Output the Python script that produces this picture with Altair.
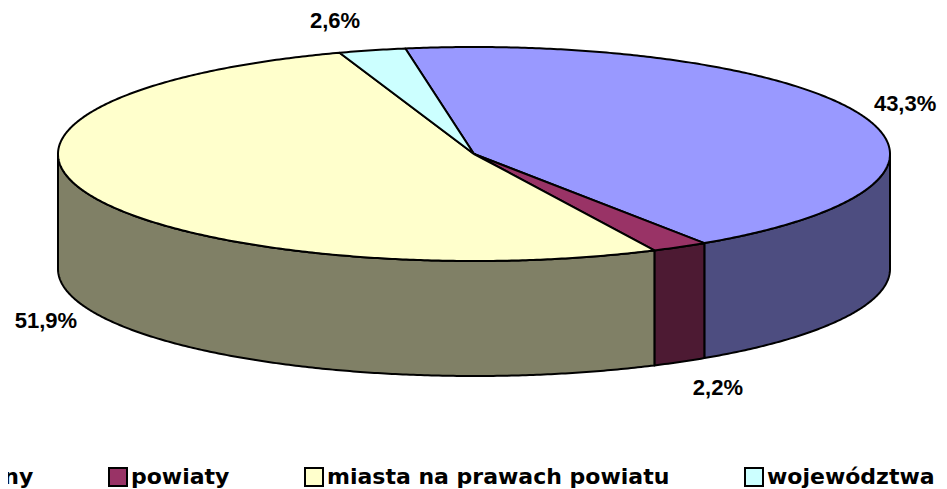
import altair as alt
import numpy as np
import pandas as pd

# ---- data ----
categories = ["gminy", "powiaty", "miasta na prawach powiatu", "województwa"]
values = [43.3, 2.2, 51.9, 2.6]
top_colors = ["#9999FF", "#993366", "#FFFFCC", "#CCFFFF"]
side_colors = ["#4D4D80", "#4D1A33", "#808066", "#668080"]

# ---- layout (pixels inside the plot area) ----
W, H = 931, 481
CX, CY = 466, 146
RX, RY = 416, 107
DEPTH = 115
START = -9.5          # degrees, clockwise from 12 o'clock
STEP = 0.5
LEG_FONT = "DejaVu Sans"
LAB_FONT = "Liberation Sans"


def ell(t_deg, dy=0.0):
    t = np.radians(t_deg)
    return CX + RX * np.sin(t), CY - RY * np.cos(t) + dy


def arc(a, b):
    n = max(2, int(abs(b - a) / STEP) + 1)
    return np.linspace(a, b, n)


total = sum(values)
bounds = []
acc = START
for v in values:
    a = acc
    acc = acc + v / total * 360.0
    bounds.append((a, acc))

top_rows, side_rows, label_rows = [], [], []
for i, (cat, (a, b)) in enumerate(zip(categories, bounds)):
    pts = [(CX, CY)] + [ell(t) for t in arc(a, b)] + [(CX, CY)]
    for k, (x, y) in enumerate(pts):
        top_rows.append({"id": cat, "cat": cat, "i": k, "x": x, "y": y})
    sa, sb = max(a, 90.0), min(b, 270.0)
    if sb > sa:
        ts = arc(sa, sb)
        pts = [ell(t) for t in ts] + [ell(t, DEPTH) for t in ts[::-1]]
        pts.append(pts[0])
        for k, (x, y) in enumerate(pts):
            side_rows.append({"id": cat, "side": cat + " side", "i": k, "x": x, "y": y})
    m = (a + b) / 2
    s, c = np.sin(np.radians(m)), np.cos(np.radians(m))
    lx, ly = ell(m, DEPTH if c < 0 else 0.0)
    lx += 13 if s >= 0 else -12
    ly += -c * 30
    label_rows.append({"cat": cat, "x": lx, "y": ly, "right": bool(s >= 0),
                       "txt": f"{values[i]:.1f}".replace(".", ",") + "%"})

top_df = pd.DataFrame(top_rows)
side_df = pd.DataFrame(side_rows)
lab_df = pd.DataFrame(label_rows)

xs = alt.Scale(domain=[0, W], nice=False, zero=False)
ys = alt.Scale(domain=[0, H], nice=False, zero=False, reverse=True)

sides = alt.Chart(side_df).mark_line(stroke="black", strokeWidth=2, strokeJoin="round").encode(
    x=alt.X("x:Q", scale=xs, axis=None),
    y=alt.Y("y:Q", scale=ys, axis=None),
    detail="id:N",
    order="i:Q",
    fill=alt.Fill("side:N", scale=alt.Scale(domain=[c + " side" for c in categories], range=side_colors), legend=None),
)

tops = alt.Chart(top_df).mark_line(stroke="black", strokeWidth=2, strokeJoin="round").encode(
    x=alt.X("x:Q", scale=xs, axis=None),
    y=alt.Y("y:Q", scale=ys, axis=None),
    detail="id:N",
    order="i:Q",
    fill=alt.Fill("cat:N", scale=alt.Scale(domain=categories, range=top_colors),
                  legend=alt.Legend(orient="none", direction="horizontal", legendX=-75, legendY=458,
                                    title=None, symbolType="square", symbolSize=324,
                                    symbolStrokeColor="black", symbolStrokeWidth=2,
                                    labelFont=LEG_FONT, labelFontWeight="bold", labelFontSize=22,
                                    labelColor="black", labelOffset=2, labelLimit=600,
                                    columnPadding=71, padding=0)),
)

lab_r = alt.Chart(lab_df).transform_filter("datum.right").mark_text(
    align="left", baseline="middle", font=LAB_FONT, fontWeight="bold", fontSize=22, color="black"
).encode(x=alt.X("x:Q", scale=xs, axis=None), y=alt.Y("y:Q", scale=ys, axis=None), text="txt:N")

lab_l = alt.Chart(lab_df).transform_filter("!datum.right").mark_text(
    align="right", baseline="middle", font=LAB_FONT, fontWeight="bold", fontSize=22, color="black"
).encode(x=alt.X("x:Q", scale=xs, axis=None), y=alt.Y("y:Q", scale=ys, axis=None), text="txt:N")

chart = alt.layer(sides, tops, lab_r, lab_l).resolve_scale(fill="independent").properties(
    width=W, height=H, padding=0, autosize=alt.AutoSizeParams(type="none")
).configure_view(stroke=None, strokeWidth=0)

chart.save("out.html", embed_options={"renderer": "svg", "actions": False})
